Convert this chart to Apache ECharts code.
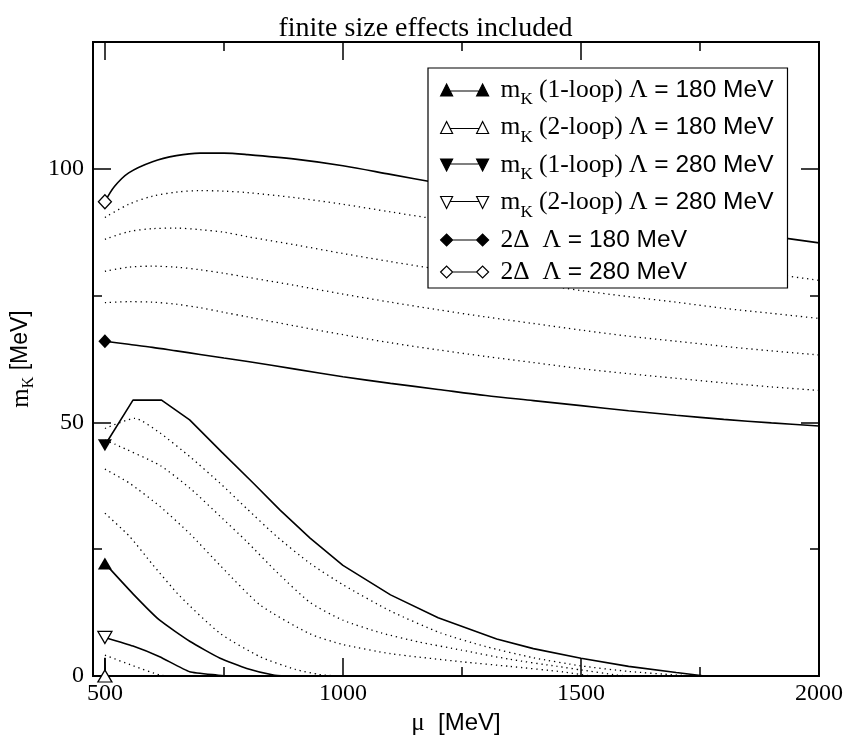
<!DOCTYPE html>
<html>
<head>
<meta charset="utf-8">
<title>finite size effects included</title>
<script src="https://cdn.jsdelivr.net/npm/echarts@6/dist/echarts.min.js"></script>
<style>
  html, body { margin: 0; padding: 0; background: #fff; }
  #main { width: 851px; height: 744px; }
</style>
</head>
<body>
<div id="main"></div>
<script>
// x grid used by the smooth upper curves
var muGrid = [500, 550, 600, 650, 700, 750, 800, 900, 1000, 1100, 1200, 1300, 1400, 1500, 1600, 1700, 1800, 1900, 2000];

// 2Delta, Lambda = 280 MeV (solid, open diamond)
var gap280X = [500, 520, 550, 600, 650, 700, 750, 800, 900, 1000, 1100, 1200, 1300, 1400, 1500, 1600, 1700, 1800, 1900, 2000];
var gap280Y = [93.5, 96.5, 99.2, 101.4, 102.6, 103.1, 103.1, 102.8, 101.9, 100.6, 98.9, 97.2, 95.6, 94.0, 92.4, 90.9, 89.4, 88.0, 86.7, 85.4];
// dotted curves between the two gap lines
var dotA = [90.4, 93.0, 94.6, 95.4, 95.7, 95.6, 95.3, 94.3, 93.0, 91.5, 90.0, 88.4, 86.8, 85.2, 83.6, 82.1, 80.6, 79.3, 78.0];
var dotB = [86.1, 87.6, 88.2, 88.3, 88.0, 87.5, 86.6, 85.0, 83.3, 81.7, 80.2, 78.8, 77.4, 76.0, 74.8, 73.7, 72.5, 71.5, 70.5];
var dotC = [79.8, 80.6, 80.8, 80.6, 80.1, 79.4, 78.6, 77.0, 75.3, 73.7, 72.2, 70.8, 69.5, 68.2, 67.0, 66.0, 65.0, 64.1, 63.3];
var dotD = [73.6, 73.8, 73.7, 73.3, 72.6, 71.7, 70.8, 69.0, 67.3, 65.7, 64.3, 63.0, 61.8, 60.6, 59.6, 58.7, 57.8, 57.0, 56.3];
// 2Delta, Lambda = 180 MeV (solid, filled diamond)
var gap180Y = [66.0, 65.4, 64.8, 64.1, 63.4, 62.7, 62.0, 60.5, 59.0, 57.7, 56.5, 55.3, 54.3, 53.3, 52.3, 51.4, 50.6, 49.9, 49.3];

// mK 1-loop, Lambda = 280 MeV
var k1h_X = [500, 559, 619, 678, 745, 812, 868, 931, 1000, 1100, 1200, 1323, 1400, 1500, 1600, 1700, 1760];
var k1h_Y = [45.5, 54.4, 54.4, 50.5, 44.2, 38.0, 32.7, 27.2, 21.8, 16.0, 11.5, 7.3, 5.4, 3.5, 1.9, 0.7, 0];
// dotted curves below it
var e1X = [500, 563, 616, 679, 742, 798, 861, 931, 1000, 1100, 1205, 1300, 1400, 1500, 1600, 1700, 1740];
var e1Y = [48.8, 50.8, 47.9, 43.2, 38.0, 33.0, 27.5, 22.2, 18.0, 12.8, 8.5, 5.8, 3.6, 2.0, 0.9, 0.2, 0];
var e2X = [500, 521, 616, 679, 742, 798, 861, 931, 1000, 1080, 1160, 1249, 1350, 1450, 1500, 1574, 1600];
var e2Y = [46.5, 45.7, 41.5, 37.0, 31.5, 26.5, 20.5, 14.5, 11.0, 8.5, 6.7, 5.1, 3.3, 1.9, 1.2, 0.2, 0];
var e3X = [500, 552, 616, 679, 742, 826, 931, 1000, 1100, 1250, 1350, 1463, 1520];
var e3Y = [40.8, 38.0, 33.4, 28.0, 21.8, 14.0, 8.3, 6.2, 4.4, 2.8, 1.9, 0.8, 0];
var e4X = [500, 552, 600, 657, 742, 826, 900, 950, 990];
var e4Y = [32.1, 27.5, 22.0, 15.8, 8.4, 3.8, 1.3, 0.3, 0];
// mK 1-loop, Lambda = 180 MeV
var k1l_X = [500, 559, 615, 679, 742, 798, 854, 880];
var k1l_Y = [22.2, 16.2, 11.0, 6.8, 3.5, 1.5, 0.2, 0];
// mK 2-loop, Lambda = 280 MeV
var k2h_X = [500, 559, 615, 678, 735, 760];
var k2h_Y = [7.6, 5.9, 3.8, 0.85, 0.2, 0];
// mK 2-loop, Lambda = 180 MeV
var k2l_X = [500, 500, 501];
var k2l_Y = [0, 3.6, 0];
// lowest dotted curve
var e5X = [500, 560, 615, 640];
var e5Y = [4.1, 2.0, 0.2, 0];

var xMajor = [500, 1000, 1500, 2000];
var xMinor = [750, 1250, 1750];
var yMajor = [0, 50, 100];
var yMinor = [25, 75];

var legendNames = [
    'mK (1-loop) L180', 'mK (2-loop) L180',
    'mK (1-loop) L280', 'mK (2-loop) L280',
    '2D L180', '2D L280'
];
var legendText = [
    '{g| }{t|m}{s|K}{t| (1-loop) Λ}{a| = 180 MeV}',
    '{g| }{t|m}{s|K}{t| (2-loop) Λ}{a| = 180 MeV}',
    '{g| }{t|m}{s|K}{t| (1-loop) Λ}{a| = 280 MeV}',
    '{g| }{t|m}{s|K}{t| (2-loop) Λ}{a| = 280 MeV}',
    '{g| }{t|2Δ  Λ}{a| = 180 MeV}',
    '{g| }{t|2Δ  Λ}{a| = 280 MeV}'
];

var serif = 'Liberation Serif';
var sans = 'Liberation Sans';

var iconUp = 'path://M0,12L6,0L12,12Z M36,12L42,0L48,12Z M9,7L39,7';
var iconDown = 'path://M0,0L12,0L6,12Z M36,0L48,0L42,12Z M9,5L39,5';
var iconDia = 'path://M0,6L6,0L12,6L6,12Z M36,6L42,0L48,6L42,12Z M12,6L36,6';

function pairs(xs, ys) {
    var out = [];
    for (var i = 0; i < xs.length; i++) {
        out.push([xs[i], ys[i]]);
    }
    return out;
}

// first point gets the marker, the rest are plain
function marked(xs, ys, sym, rot, filled) {
    var d = pairs(xs, ys);
    d[0] = {
        value: d[0],
        symbol: sym,
        symbolSize: sym == 'diamond' ? [13, 14] : [14, 12],
        symbolRotate: rot,
        itemStyle: {
            color: filled ? '#000' : '#fff',
            borderColor: '#000',
            borderWidth: filled ? 0 : 1.3
        }
    };
    return d;
}

function solid(name, data, filled, smooth) {
    return {
        name: name,
        type: 'line',
        data: data,
        symbol: 'none',
        showAllSymbol: true,
        smooth: smooth,
        itemStyle: { color: filled ? '#000' : '#fff', borderColor: '#000', borderWidth: filled ? 0 : 1.3 },
        lineStyle: { color: '#000', width: 1.6, type: 'solid' },
        emphasis: { disabled: true },
        silent: true,
        z: 3
    };
}

function dotted(name, data, smooth) {
    return {
        name: name,
        type: 'line',
        data: data,
        symbol: 'none',
        smooth: smooth,
        lineStyle: { color: '#000', width: 1.3, type: [1.3, 3.8] },
        emphasis: { disabled: true },
        silent: true,
        z: 2
    };
}

var myChart = echarts.init(document.getElementById('main'), null, { renderer: 'canvas' });

var tickMajor = { show: true, inside: true, length: 18, lineStyle: { color: '#000', width: 1.5 } };
var tickMinor = { show: true, inside: true, length: 9, lineStyle: { color: '#000', width: 1.5 } };
var borderLine = { show: true, onZero: false, lineStyle: { color: '#000', width: 2 } };

function plain(v) {
    return String(v);
}

function xAx(pos, ticks, major, withLabel) {
    var ax = {
        type: 'value',
        position: pos,
        min: 475,
        max: 2000,
        splitLine: { show: false },
        axisLine: borderLine,
        axisTick: echarts.util.extend({ customValues: ticks }, major ? tickMajor : tickMinor),
        axisLabel: { show: false }
    };
    if (withLabel) {
        ax.axisLabel = {
            show: true, customValues: xMajor, margin: 6, formatter: plain,
            fontFamily: serif, fontSize: 24, color: '#000'
        };
        ax.name = '{g|μ}{a|  [MeV]}';
        ax.nameLocation = 'middle';
        ax.nameGap = 33;
        ax.nameTextStyle = {
            rich: {
                g: { fontFamily: serif, fontSize: 25, color: '#000' },
                a: { fontFamily: sans, fontSize: 24, color: '#000' }
            }
        };
    }
    return ax;
}

function yAx(pos, ticks, major, withLabel) {
    var ax = {
        type: 'value',
        position: pos,
        min: 0,
        max: 125,
        splitLine: { show: false },
        axisLine: borderLine,
        axisTick: echarts.util.extend({ customValues: ticks }, major ? tickMajor : tickMinor),
        axisLabel: { show: false }
    };
    if (withLabel) {
        ax.axisLabel = {
            show: true, customValues: yMajor, margin: 9, formatter: plain,
            fontFamily: serif, fontSize: 24, color: '#000'
        };
        ax.name = '{t|m}{s|K}{a| [MeV]}';
        ax.nameLocation = 'middle';
        ax.nameRotate = 90;
        ax.nameGap = 56;
        ax.nameTextStyle = {
            rich: {
                t: { fontFamily: serif, fontSize: 25, color: '#000' },
                s: { fontFamily: serif, fontSize: 16, color: '#000', padding: [16, 0, 0, 0] },
                a: { fontFamily: sans, fontSize: 23, color: '#000' }
            }
        };
    }
    return ax;
}

var series = [
    solid(legendNames[0], marked(k1l_X, k1l_Y, 'triangle', 0, true), true, 0.15),
    solid(legendNames[1], marked(k2l_X, k2l_Y, 'triangle', 0, false), false, false),
    solid(legendNames[2], marked(k1h_X, k1h_Y, 'triangle', 180, true), true, false),
    solid(legendNames[3], marked(k2h_X, k2h_Y, 'triangle', 180, false), false, 0.15),
    solid(legendNames[4], marked(muGrid, gap180Y, 'diamond', 0, true), true, 0.3),
    solid(legendNames[5], marked(gap280X, gap280Y, 'diamond', 0, false), false, 0.3),
    dotted('d1', pairs(muGrid, dotA), 0.3),
    dotted('d2', pairs(muGrid, dotB), 0.3),
    dotted('d3', pairs(muGrid, dotC), 0.3),
    dotted('d4', pairs(muGrid, dotD), 0.3),
    dotted('e1', pairs(e1X, e1Y), 0.2),
    dotted('e2', pairs(e2X, e2Y), 0.2),
    dotted('e3', pairs(e3X, e3Y), 0.2),
    dotted('e4', pairs(e4X, e4Y), 0.2),
    dotted('e5', pairs(e5X, e5Y), 0.2)
];

var legendIcons = [iconUp, iconUp, iconDown, iconDown, iconDia, iconDia];
var legendFill = [true, false, true, false, true, false];
var legendData = [];
for (var i = 0; i < legendNames.length; i++) {
    legendData.push({
        name: legendNames[i],
        icon: legendIcons[i],
        itemStyle: {
            color: legendFill[i] ? '#000' : '#fff',
            borderColor: '#000',
            borderWidth: 1.2
        }
    });
}

option = {
    backgroundColor: '#fff',
    animation: false,
    title: {
        text: 'finite size effects included',
        left: 'center',
        top: 10,
        textStyle: { fontFamily: serif, fontSize: 28, fontWeight: 'normal', color: '#000' }
    },
    grid: { left: 93, right: 32, top: 42, bottom: 68 },
    legend: {
        orient: 'vertical',
        left: 428,
        top: 68,
        padding: [9, 14, 3, 12],
        itemGap: 6,
        itemWidth: 48,
        itemHeight: 12,
        selectedMode: false,
        backgroundColor: '#fff',
        borderColor: '#000',
        borderWidth: 1.2,
        data: legendData,
        formatter: function (name) {
            return legendText[legendNames.indexOf(name)];
        },
        textStyle: {
            color: '#000',
            rich: {
                g: { width: 7 },
                t: { fontFamily: serif, fontSize: 25.5, color: '#000' },
                s: { fontFamily: serif, fontSize: 17, color: '#000', padding: [20, 0, 0, 0] },
                a: { fontFamily: sans, fontSize: 24.5, color: '#000' }
            }
        },
        z: 10
    },
    xAxis: [
        xAx('bottom', xMajor, true, true),
        xAx('bottom', xMinor, false, false),
        xAx('top', xMajor, true, false),
        xAx('top', xMinor, false, false)
    ],
    yAxis: [
        yAx('left', yMajor, true, true),
        yAx('left', yMinor, false, false),
        yAx('right', [50, 100], true, false),
        yAx('right', yMinor, false, false)
    ],
    series: series
};

myChart.setOption(option);
</script>
</body>
</html>
